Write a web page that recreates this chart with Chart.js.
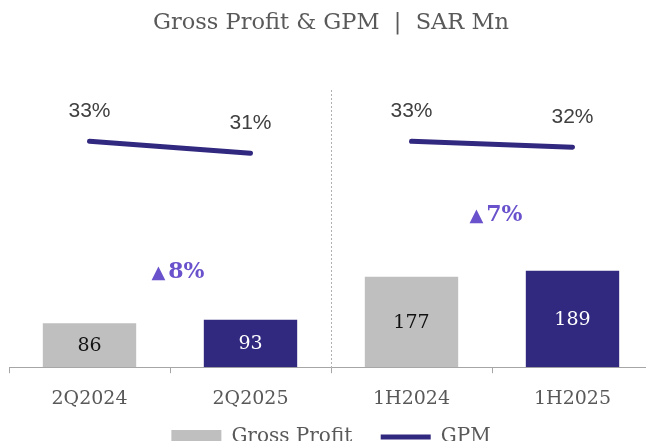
<!DOCTYPE html>
<html>
<head>
<meta charset="utf-8">
<script src="https://cdn.jsdelivr.net/npm/chart.js@4.4.1/dist/chart.umd.min.js"></script>
<style>
  html, body { margin: 0; padding: 0; overflow: hidden; background: #fff; }
  #wrap { width: 654px; height: 457px; }
</style>
</head>
<body>
<div id="wrap"><canvas id="chart"></canvas></div>
<script>
const periods = ['2Q2024', '2Q2025', '1H2024', '1H2025'];
const grossProfit = [86, 93, 177, 189];
const gpmQuarter = [33, 31, null, null];
const gpmHalf = [null, null, 33, 32];
const growthLabels = ['8%', '7%'];

const GREY = '#bfbfbf';
const NAVY = '#31287f';
const SERIF = '"DejaVu Serif", serif';

// labels inside bars
const barLabels = {
  id: 'barLabels',
  afterDatasetsDraw(chart) {
    const ctx = chart.ctx;
    const meta = chart.getDatasetMeta(0);
    ctx.save();
    ctx.font = '19px ' + SERIF;
    ctx.textAlign = 'center';
    ctx.textBaseline = 'middle';
    meta.data.forEach((bar, i) => {
      ctx.fillStyle = i % 2 ? '#ffffff' : '#111111';
      ctx.fillText(grossProfit[i], bar.x, (bar.y + bar.base) / 2 + 1);
    });
    ctx.restore();
  }
};

// % labels over the GPM line
const lineLabels = {
  id: 'lineLabels',
  afterDatasetsDraw(chart) {
    const ctx = chart.ctx;
    ctx.save();
    ctx.font = '21px "Liberation Sans", sans-serif';
    ctx.fillStyle = '#404040';
    ctx.textAlign = 'center';
    ctx.textBaseline = 'middle';
    [1, 2].forEach(d => {
      const vals = chart.data.datasets[d].data;
      chart.getDatasetMeta(d).data.forEach((pt, i) => {
        if (vals[i] == null) return;
        ctx.fillText(vals[i] + '%', pt.x, pt.y - 30);
      });
    });
    ctx.restore();
  }
};

// growth arrows between each pair of bars + dashed divider
const growth = {
  id: 'growth',
  beforeDatasetsDraw(chart) {
    const ctx = chart.ctx;
    const x = chart.scales.x;
    const area = chart.chartArea;
    const dx = (x.getPixelForValue(1) + x.getPixelForValue(2)) / 2;
    ctx.save();
    ctx.strokeStyle = '#b0b0b0';
    ctx.lineWidth = 1;
    ctx.setLineDash([2, 2]);
    ctx.beginPath();
    ctx.moveTo(dx + 0.5, area.top);
    ctx.lineTo(dx + 0.5, area.bottom);
    ctx.stroke();
    ctx.restore();
  },
  afterDatasetsDraw(chart, args, opts) {
    const ctx = chart.ctx;
    const x = chart.scales.x;
    const y = chart.scales.yBar;
    ctx.save();
    ctx.fillStyle = '#6a52cc';
    ctx.textBaseline = 'middle';
    ctx.textAlign = 'left';
    growthLabels.forEach((txt, g) => {
      const a = 2 * g, b = a + 1;
      const cx = (x.getPixelForValue(a) + x.getPixelForValue(b)) / 2 + opts.shift[g];
      const top = Math.min(y.getPixelForValue(grossProfit[a]), y.getPixelForValue(grossProfit[b]));
      const cy = top - opts.offset[g];
      ctx.font = '18px "DejaVu Sans", sans-serif';
      const w1 = ctx.measureText('▲').width;
      ctx.font = 'bold 22px ' + SERIF;
      const w2 = ctx.measureText(txt).width;
      const start = cx - (w1 + 3 + w2) / 2;
      ctx.font = '18px "DejaVu Sans", sans-serif';
      ctx.fillText('▲', start, cy + 1);
      ctx.font = 'bold 22px ' + SERIF;
      ctx.fillText(txt, start + w1 + 3, cy);
    });
    ctx.restore();
  }
};

new Chart(document.getElementById('chart'), {
  data: {
    labels: periods,
    datasets: [
      {
        type: 'bar',
        label: 'Gross Profit    ',
        data: grossProfit,
        yAxisID: 'yBar',
        backgroundColor: [GREY, NAVY, GREY, NAVY],
        borderWidth: 0,
        categoryPercentage: 1,
        barPercentage: 0.58,
        pointStyle: 'rect',
        order: 2
      },
      {
        type: 'line',
        label: 'GPM',
        data: gpmQuarter,
        yAxisID: 'yLine',
        borderColor: NAVY,
        backgroundColor: NAVY,
        borderWidth: 5,
        borderCapStyle: 'round',
        pointRadius: 0,
        pointStyle: 'line',
        spanGaps: false,
        order: 1
      },
      {
        type: 'line',
        label: 'GPM',
        data: gpmHalf,
        yAxisID: 'yLine',
        borderColor: NAVY,
        backgroundColor: NAVY,
        borderWidth: 5,
        borderCapStyle: 'round',
        pointRadius: 0,
        pointStyle: 'line',
        spanGaps: false,
        order: 1
      }
    ]
  },
  options: {
    responsive: true,
    maintainAspectRatio: false,
    animation: false,
    layout: { padding: { left: 9, right: 1, top: 0, bottom: 0 } },
    scales: {
      x: {
        offset: true,
        grid: { display: true, drawOnChartArea: false, offset: true, tickLength: 6, color: '#a6a6a6' },
        border: { display: true, color: '#a6a6a6', width: 1 },
        ticks: { color: '#595959', font: { family: SERIF, size: 19 }, padding: 14 }
      },
      yBar: { display: false, min: 0, max: 543 },
      yLine: { display: false, min: -4.5, max: 41.5 }
    },
    plugins: {
      title: {
        display: true,
        text: 'Gross Profit & GPM  |  SAR Mn',
        fullSize: false,
        color: '#595959',
        font: { family: SERIF, size: 22.5, weight: 'normal' },
        padding: { top: 10, bottom: 53 }
      },
      legend: {
        position: 'bottom',
        fullSize: false,
        labels: {
          usePointStyle: true,
          pointStyleWidth: 50,
          boxWidth: 50,
          boxHeight: 14,
          padding: 3,
          color: '#595959',
          font: { family: SERIF, size: 20 },
          filter: item => item.datasetIndex !== 2,
          sort: (a, b) => a.datasetIndex - b.datasetIndex
        }
      },
      tooltip: { enabled: false },
      growth: { shift: [8, 4], offset: [47, 55] }
    }
  },
  plugins: [barLabels, lineLabels, growth]
});
</script>
</body>
</html>
